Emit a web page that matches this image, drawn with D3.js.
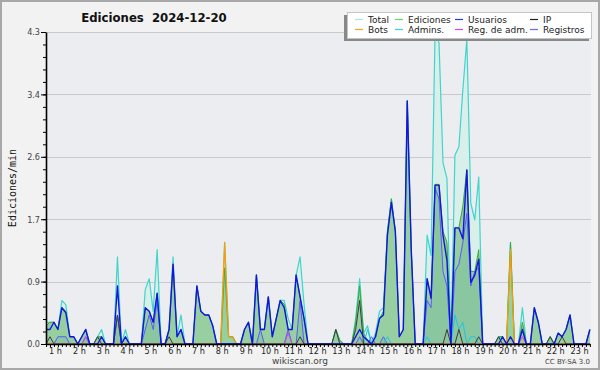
<!DOCTYPE html>
<html>
<head>
<meta charset="utf-8">
<script src="https://cdn.jsdelivr.net/npm/d3@7"></script>
<style>
  body { margin: 0; background: #f2f2f2; }
  svg { display: block; }
  text { font-family: "DejaVu Sans", sans-serif; }
</style>
</head>
<body>
<svg id="chart" width="600" height="370"></svg>
<script>
// Ediciones por 10 min, 2024-12-20 (wikiscan)
var total = [
  .3,.3,.3,.2,.6,.54,.1,.1,0,.1,
  .2,0,0,.1,.2,0,0,0,1.2,0,
  .2,0,0,0,0,.75,.9,.45,1.3,0,
  0,.2,1.2,.1,.4,0,0,0,.8,.45,
  .4,.4,.25,0,0,1.4,.1,.1,0,0,
  .2,.3,0,.95,.22,.2,.65,.1,.35,.6,
  .6,.35,.2,.95,1.2,.55,0,0,0,0,
  0,0,0,.2,.05,0,0,0,.35,.9,
  .15,.25,0,.15,.45,.5,1.55,2.0,1.55,.1,
  .2,3.35,1.3,0,0,0,1.5,1.22,4.3,4.15,
  2.5,2.28,0,2.6,2.72,3.5,4.2,1.94,1.71,2.3,
  0,0,0,0,.1,.1,0,1.4,0,0,
  .5,0,0,.5,.3,0,0,.1,0,.15,
  .1,.2,.4,0,0,0,0,.2
];
var ediciones = [
  .25,.3,.3,.2,.5,.45,.1,.1,0,.1,
  .2,0,0,.1,.1,0,0,0,.4,0,
  .1,0,0,0,0,.5,.45,.3,.7,0,
  0,.2,1.1,.1,.2,0,0,0,.8,.45,
  .4,.4,.25,0,0,1.05,.1,.1,0,0,
  .2,.3,0,.95,.2,.2,.65,.1,.35,.6,
  .55,.2,.2,.95,.65,.35,0,0,0,0,
  0,0,0,.2,.05,0,0,0,.3,.8,
  .15,.05,0,.1,.35,.45,1.55,2.0,1.55,.1,
  .2,3.35,1.3,0,0,0,.9,.65,2.2,2.2,
  1.55,1.4,0,1.6,1.6,1.9,2.4,1.0,1.0,1.3,
  0,0,0,0,.1,.1,0,1.4,0,0,
  .3,0,0,.5,.3,0,0,.1,0,.15,
  .1,.2,.4,0,0,0,0,.2
];
var usuarios = [
  .2,.2,.3,.2,.5,.43,.1,.1,0,.1,
  .2,0,0,0,.1,0,0,0,.8,0,
  .1,0,0,0,0,.5,.45,.3,.7,0,
  0,.2,1.1,.1,.2,0,0,0,.8,.45,
  .4,.4,.25,0,0,0,0,0,0,0,
  .2,.3,0,.95,.2,.2,.65,.1,.35,.6,
  .5,.2,.2,.95,.65,.35,0,0,0,0,
  0,0,0,0,0,0,0,0,.1,.2,
  .1,.05,0,.1,.35,.4,1.5,1.95,1.55,.1,
  .2,3.35,1.3,0,0,0,.9,.63,2.19,2.19,
  1.5,1.15,0,1.6,1.6,1.45,2.4,.85,.95,1.17,
  0,0,0,0,0,.1,0,.1,0,0,
  .2,0,0,.5,.3,0,0,0,0,.15,
  .1,.2,.4,0,0,0,0,.2
];
var ip = [
  0,.1,0,0,0,0,0,0,0,0,
  0,0,0,.1,0,0,0,0,.4,0,
  0,0,0,0,0,0,0,0,0,0,
  0,.1,0,0,0,0,0,0,0,0,
  0,0,0,0,0,0,0,0,0,0,
  0,0,0,0,0,0,0,0,0,0,
  0,0,0,0,.1,0,0,0,0,0,
  0,0,0,.2,0,0,0,0,.2,.6,
  0,0,0,0,0,0,0,0,0,0,
  0,0,0,0,0,0,0,0,0,0,
  0,.2,0,0,.2,0,0,0,0,.1,
  0,0,0,0,.1,0,0,0,0,0,
  0,0,0,0,0,0,0,.1,0,0,
  .1,0,0,0,0,0,0,0
];
var bots = [
  0,0,0,0,0,0,0,0,0,0,
  0,0,0,0,0,0,0,0,0,0,
  0,0,0,0,0,0,0,0,0,0,
  0,0,0,0,0,0,0,0,0,0,
  0,0,0,0,0,1.4,.1,.1,0,0,
  0,0,0,0,0,0,0,0,0,0,
  0,0,0,0,0,0,0,0,0,0,
  0,0,0,0,0,0,0,0,0,0,
  0,0,0,0,0,0,0,0,0,0,
  0,0,0,0,0,0,0,0,0,0,
  0,0,0,0,0,0,0,0,0,0,
  0,0,0,0,0,0,0,1.3,0,0,
  0,0,0,0,0,0,0,0,0,0,
  0,0,0,0,0,0,0,0
];
var admins = [
  0,0,0,0,0,0,0,0,0,0,
  0,0,0,0,0,0,0,0,0,0,
  0,0,0,0,0,0,0,0,0,0,
  0,0,0,0,0,0,0,0,0,0,
  0,0,0,0,0,0,0,0,0,0,
  0,0,0,0,0,0,0,0,0,0,
  0,0,0,0,0,0,0,0,0,0,
  0,0,0,0,0,0,0,0,0,0,
  0,.2,0,0,0,0,.1,0,0,0,
  0,0,0,0,0,0,.1,0,0,0,
  0,0,0,.4,.2,.3,0,.1,.1,0,
  0,0,0,0,0,0,0,0,0,0,
  0,0,0,0,0,0,0,0,0,0,
  0,0,0,0,0,0,0,0
];
var regAdm = [
  0,0,0,0,0,0,0,0,0,0,
  .1,0,0,0,0,0,0,0,0,0,
  0,0,0,0,0,0,0,0,0,0,
  0,0,0,0,0,0,0,0,0,0,
  0,0,0,0,0,0,0,0,0,0,
  0,0,0,0,0,0,0,0,0,0,
  0,.15,0,0,0,0,0,0,0,0,
  0,0,0,0,0,0,0,0,0,0,
  0,0,0,0,0,0,0,0,0,0,
  0,0,0,0,0,0,0,0,0,0,
  0,0,0,0,0,0,0,0,0,0,
  0,0,0,0,0,0,0,0,0,0,
  .1,0,0,0,0,0,0,0,0,0,
  0,0,0,0,0,0,0,0
];
var registros = [
  0,0,0,.1,.1,.1,0,0,0,0,
  .1,0,0,0,0,0,0,0,.4,0,
  0,0,0,0,0,.2,.4,.2,.6,0,
  0,0,0,0,0,0,0,0,0,0,
  0,0,0,0,0,0,0,0,0,0,
  0,0,0,0,.2,0,0,0,0,0,
  0,.2,0,0,.6,0,0,0,0,0,
  0,0,0,0,0,0,0,0,0,.1,
  0,0,.1,0,0,.1,0,0,0,0,
  0,0,0,0,0,0,.6,.5,2.15,2.0,
  1.0,.8,0,1.0,1.1,1.4,1.8,.8,1.0,1.05,
  0,0,0,0,0,0,0,0,0,0,
  0,0,0,0,0,0,0,0,0,0,
  0,0,0,0,0,0,0,0
];

var hourLabels = ["1 h","2 h","3 h","4 h","5 h","6 h","7 h","8 h","9 h","10 h","11 h","12 h",
  "13 h","14 h","15 h","16 h","17 h","18 h","19 h","20 h","21 h","22 h","23 h"];
var hourValues = [1,2,3,4,5,6,7,8,9,10,11,12,13,14,15,16,17,18,19,20,21,22,23];
var yTickLabels = ["0.0","0.9","1.7","2.6","3.4","4.3"];

var legendNames = ["Total","Ediciones","Usuarios","IP","Bots","Admins.","Reg. de adm.","Registros"];
var legendColors = ["#a0ece2","#6cd06c","#3030ff","#202020","#ffa020","#28d4e8","#e040f0","#6868ff"];

(function() {
  var svg = d3.select("#chart");
  var pL = 46, pR = 591, pT = 32, pB = 344;
  var n = total.length;
  var yMax = d3.max(total);

  var x = d3.scaleLinear().domain([0, n - 1]).range([pL, pL + (n - 1) * 3.97]);
  // hours: data starts a bit after 0:30
  var t0 = 0.6;
  var hx = d3.scaleLinear().domain([t0, t0 + (n - 1) / 6]).range(x.range());
  var y = d3.scaleLinear().domain([0, yMax]).range([pB, pT]);

  // frame
  svg.append("rect").attr("x", 1).attr("y", 1).attr("width", 598).attr("height", 368)
    .attr("fill", "#f2f2f2").attr("stroke", "#a8a8a8").attr("stroke-width", 2);
  svg.append("rect").attr("x", pL).attr("y", pT).attr("width", pR - pL).attr("height", pB - pT)
    .attr("fill", "#ecedf0");

  // grid
  var majors = yTickLabels.map(function(d, k) { return yMax * k / 5; });
  svg.append("g").selectAll("line").data(majors.slice(1)).enter().append("line")
    .attr("x1", pL).attr("x2", pR)
    .attr("y1", function(d) { return Math.round(y(d)) + 0.5; })
    .attr("y2", function(d) { return Math.round(y(d)) + 0.5; })
    .attr("stroke", "#c8c9cc").attr("stroke-width", 1);

  function area(data) {
    return d3.area().x(function(d, i) { return x(i); }).y0(pB).y1(function(d) { return y(d); })(data);
  }
  function line(data) {
    return d3.line().x(function(d, i) { return x(i); }).y(function(d) { return y(d); })(data);
  }

  var plot = svg.append("g");
  plot.append("path").attr("d", area(total)).attr("fill", "#d8efea");
  plot.append("path").attr("d", area(registros)).attr("fill", "rgba(72,144,212,0.16)");
  plot.append("path").attr("d", area(ediciones)).attr("fill", "rgba(64,164,64,0.43)");

  var series = [
    [total, "#40d4cc", 1.2],
    [ediciones, "#3aa83a", 1],
    [registros, "#5a5aff", 1],
    [admins, "#22c4e0", 1],
    [regAdm, "#d83ee8", 1],
    [bots, "#ff9a00", 1.2],
    [ip, "#3c3c3c", 1],
    [usuarios, "#1414e0", 1.4]
  ];
  series.forEach(function(s) {
    plot.append("path").attr("d", line(s[0]))
      .attr("fill", "none").attr("stroke", s[1]).attr("stroke-width", s[2])
      .attr("stroke-linejoin", "round");
  });

  // x axis
  var xAxis = svg.append("g").attr("transform", "translate(0," + pB + ")")
    .call(d3.axisBottom(x).tickValues(d3.range(0, n)).tickSize(3).tickSizeOuter(0).tickFormat(""));
  xAxis.select(".domain").attr("stroke", "#000").attr("stroke-width", 1.6);

  svg.append("g").selectAll("text").data(hourValues).enter().append("text")
    .attr("x", function(d) { return hx(d); }).attr("y", 354)
    .attr("text-anchor", "middle").attr("font-size", 9).attr("fill", "#222")
    .style("font-family", "'DejaVu Sans Condensed', 'DejaVu Sans', sans-serif")
    .text(function(d, i) { return hourLabels[i]; });

  // y axis
  var minors = d3.range(0, 26).map(function(k) { return yMax * k / 25; });
  var yMinor = svg.append("g").attr("transform", "translate(" + pL + ",0)")
    .call(d3.axisLeft(y).tickValues(minors).tickSize(3).tickSizeOuter(0).tickFormat(""));
  yMinor.select(".domain").remove();
  var yAxis = svg.append("g").attr("transform", "translate(" + pL + ",0)")
    .call(d3.axisLeft(y).tickValues(majors).tickSize(5).tickSizeOuter(0)
      .tickFormat(function(d, i) { return yTickLabels[i]; }));
  yAxis.select(".domain").attr("stroke", "#000").attr("stroke-width", 1.6);
  svg.selectAll(".tick line").attr("stroke", "#000");
  yAxis.selectAll("text").attr("font-size", 9).attr("fill", "#444").attr("x", -6)
    .style("font-family", "'DejaVu Sans Condensed', 'DejaVu Sans', sans-serif");

  // titles
  svg.append("text").attr("x", 154).attr("y", 22).attr("text-anchor", "middle")
    .attr("font-size", 13).attr("font-weight", "bold").attr("fill", "#111")
    .style("font-family", "'DejaVu Sans Condensed', 'DejaVu Sans', sans-serif")
    .style("white-space", "pre")
    .text("Ediciones  2024-12-20");
  svg.append("text").attr("transform", "translate(16,188) rotate(-90)").attr("text-anchor", "middle")
    .attr("font-size", 10).attr("fill", "#111")
    .style("font-family", "'DejaVu Sans Mono', monospace")
    .text("Ediciones/min");
  svg.append("text").attr("x", 300).attr("y", 364).attr("text-anchor", "middle")
    .attr("font-size", 9).attr("fill", "#444").text("wikiscan.org");
  svg.append("text").attr("x", 590).attr("y", 364).attr("text-anchor", "end")
    .attr("font-size", 7).attr("fill", "#444").text("CC BY-SA 3.0");

  // legend
  var lg = svg.append("g");
  lg.append("rect").attr("x", 344).attr("y", 15).attr("width", 245).attr("height", 26).attr("fill", "#888");
  lg.append("rect").attr("x", 347.5).attr("y", 12.5).attr("width", 244).attr("height", 26)
    .attr("fill", "#fff").attr("stroke", "#c4c4c4");
  var colX = [355, 395, 455, 530];
  var rowY = [19.5, 29.5];
  legendNames.forEach(function(name, k) {
    var cx = colX[k % 4], cy = rowY[Math.floor(k / 4)];
    lg.append("line").attr("x1", cx).attr("x2", cx + 8).attr("y1", cy).attr("y2", cy)
      .attr("stroke", legendColors[k]).attr("stroke-width", 1.2);
    lg.append("text").attr("x", cx + 13).attr("y", cy + 3.5).attr("font-size", 9).attr("fill", "#222")
      .text(name);
  });
})();
</script>
</body>
</html>
